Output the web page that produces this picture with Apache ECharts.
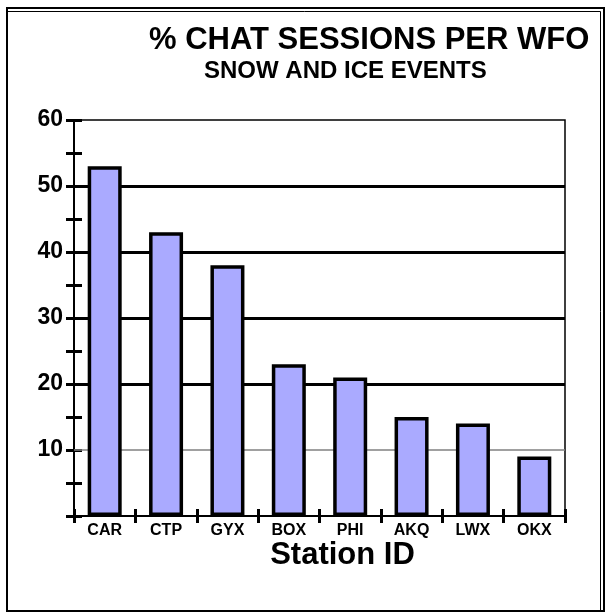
<!DOCTYPE html>
<html>
<head>
<meta charset="utf-8">
<script src="https://cdn.jsdelivr.net/npm/echarts@6/dist/echarts.min.js"></script>
<style>
html,body{margin:0;padding:0;background:#fff}
#main{width:608px;height:612px}
</style>
</head>
<body>
<div id="main"></div>
<script>
// data
var stations = ['CAR', 'CTP', 'GYX', 'BOX', 'PHI', 'AKQ', 'LWX', 'OKX'];
var percents = [53, 43, 38, 23, 21, 15, 14, 9];
var yLabels = ['', '10', '20', '30', '40', '50', '60'];
var yMin = 0, yMax = 60, yStep = 10;

var chart = echarts.init(document.getElementById('main'));
var font = 'Arial, "Liberation Sans", sans-serif';

// split line colours by tick : 0 and 60 hidden, 10 drawn apart (grey)
var splitColors = ['rgba(0,0,0,0)', 'rgba(0,0,0,0)', '#000', '#000', '#000', '#000', 'rgba(0,0,0,0)'];

var option = {
	animation: false,
	backgroundColor: '#fff',
	title: [
		{
			text: '% CHAT SESSIONS PER WFO',
			left: 144,
			top: 20,
			textStyle: {fontFamily: font, fontSize: 31, fontWeight: 'bold', color: '#000'}
		},
		{
			text: 'SNOW AND ICE EVENTS',
			left: 199,
			top: 54,
			textStyle: {fontFamily: font, fontSize: 24, fontWeight: 'bold', color: '#000'}
		}
	],
	grid: {
		left: 74,
		right: 43,
		top: 120,
		bottom: 96,
		show: true,
		borderColor: '#000',
		borderWidth: 1.5
	},
	xAxis: [
		{
			type: 'category',
			data: stations,
			name: 'Station ID',
			nameLocation: 'middle',
			nameGap: 24,
			nameMoveOverlap: false,
			nameTextStyle: {fontFamily: font, fontSize: 31, fontWeight: 'bold', color: '#000', padding: [0, 0, 0, 46]},
			axisLine: {lineStyle: {color: '#000', width: 2}},
			axisTick: {show: true, length: 7, lineStyle: {color: '#000', width: 3}},
			axisLabel: {margin: 7, fontFamily: font, fontSize: 16, fontWeight: 'bold', color: '#000'}
		},
		{
			type: 'category',
			data: stations,
			position: 'bottom',
			axisLine: {show: false},
			axisTick: {show: true, inside: true, length: 7, lineStyle: {color: '#000', width: 3}},
			axisLabel: {show: false}
		}
	],
	yAxis: [
		{
			type: 'value',
			min: yMin,
			max: yMax,
			interval: yStep,
			axisLine: {show: true, lineStyle: {color: '#000', width: 2}},
			axisTick: {show: true, length: 8, lineStyle: {color: '#000', width: 3}},
			minorTick: {show: true, splitNumber: 2, length: 8, lineStyle: {color: '#000', width: 3}},
			axisLabel: {
				margin: 11,
				fontFamily: font, fontSize: 23, fontWeight: 'bold', color: '#000',
				formatter: function (v, i) { return yLabels[i]; }
			},
			splitLine: {show: true, lineStyle: {color: splitColors, width: 3}}
		},
		{
			type: 'value',
			min: yMin,
			max: yMax,
			interval: yStep,
			position: 'left',
			axisLine: {show: false},
			axisTick: {show: true, inside: true, length: 8, lineStyle: {color: '#000', width: 3}},
			minorTick: {show: true, splitNumber: 2, length: 8, lineStyle: {color: '#000', width: 3}},
			axisLabel: {show: false},
			splitLine: {show: false}
		}
	],
	series: [
		{
			name: 'percent',
			type: 'bar',
			barWidth: 34,
			data: percents,
			itemStyle: {color: '#aaaaff', borderColor: '#000', borderWidth: 3.5},
			markLine: {
				silent: true,
				symbol: 'none',
				label: {show: false},
				lineStyle: {color: '#808080', width: 1.5, type: 'solid'},
				z: 1,
				data: [{yAxis: 10}]
			}
		}
	],
	graphic: [
		// page frame, heavy outer line + thin inner line at top and right
		{type: 'rect', shape: {x: 7, y: 8, width: 597, height: 603}, style: {fill: 'none', stroke: '#000', lineWidth: 2}},
		{type: 'polyline', shape: {points: [[8, 11.5], [600.5, 11.5], [600.5, 611]]}, style: {fill: 'none', stroke: '#000', lineWidth: 1}}
	]
};

chart.setOption(option);
</script>
</body>
</html>
